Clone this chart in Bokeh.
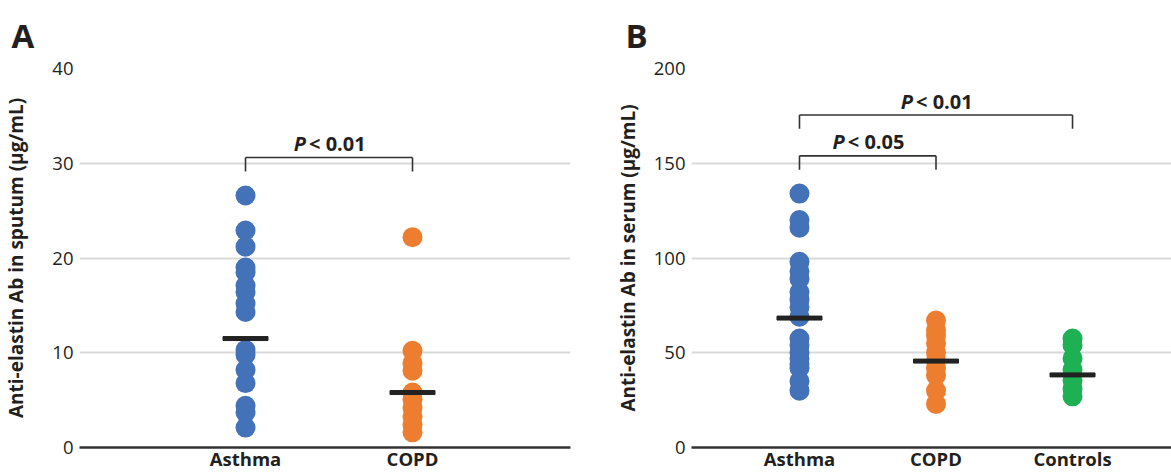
from bokeh.plotting import figure
from bokeh.models import FixedTicker, Range1d
from bokeh.layouts import row
from bokeh.embed import file_html
from bokeh.resources import INLINE
from bokeh.core.properties import value

# ---------------- data ----------------
a_groups = ["Asthma", "COPD"]
a_asthma = [26.6, 22.9, 21.2, 19.0, 18.5, 17.1, 16.4, 15.2, 14.3, 10.3, 9.8, 8.2, 6.8, 4.4, 3.7, 2.1]
a_copd = [22.2, 10.2, 8.9, 8.1, 5.8, 5.1, 4.2, 3.3, 2.4, 1.6]
a_means = [11.5, 5.8]
a_comparisons = [("Asthma", "COPD", 30.6, "< 0.01")]
a_ticks = [0, 10, 20, 30, 40]

b_groups = ["Asthma", "COPD", "Controls"]
b_asthma = [134, 120, 116, 98, 93, 89, 82, 78, 74, 69, 57.5, 54, 50, 47, 44, 42, 35, 30]
b_copd = [67, 62, 59, 55, 50, 46, 42, 38, 30, 23]
b_controls = [57.5, 54, 47, 41, 35.5, 31, 27]
b_means = [68.3, 45.6, 38.3]
b_comparisons = [("Asthma", "Controls", 175.5, "< 0.01"), ("Asthma", "COPD", 153.9, "< 0.05")]
b_ticks = [0, 50, 100, 150, 200]

colors = ["#4472B9", "#EE7E2F", "#1DB154"]
FONT = "Open Sans"
DARK = "#231F20"


def panel(letter, groups, series, means, comparisons, ticks, ylabel,
          width, height, border_l, border_r, x_lo, x_hi, label_standoff, letter_offset):
    border_t, border_b = 66, 25
    ymax = ticks[-1]
    p = figure(width=width, height=height, output_backend="svg", toolbar_location=None,
               x_range=Range1d(x_lo, x_hi), y_range=Range1d(0, ymax),
               min_border_left=border_l, min_border_right=border_r,
               min_border_top=border_t, min_border_bottom=border_b)
    p.outline_line_color = None
    p.background_fill_color = "white"
    p.border_fill_color = "white"
    frame_h = height - border_t - border_b
    yppu = frame_h / ymax

    # panel letter as title
    p.title.text = letter
    p.title.align = "left"
    p.title.offset = letter_offset
    p.title.standoff = 20.5
    p.title.text_font = FONT
    p.title.text_font_style = "bold"
    p.title.text_font_size = "33px"
    p.title.text_color = DARK

    # grid
    p.xgrid.grid_line_color = None
    p.ygrid.ticker = FixedTicker(ticks=ticks)
    p.ygrid.grid_line_color = "#D9D9D9"
    p.ygrid.grid_line_width = 2

    # y axis
    ya = p.yaxis[0]
    ya.ticker = FixedTicker(ticks=ticks)
    ya.axis_line_color = None
    ya.major_tick_line_color = None
    ya.minor_tick_line_color = None
    ya.major_tick_out = 0
    ya.major_tick_in = 0
    ya.minor_tick_out = 0
    ya.major_label_standoff = 6
    ya.major_label_text_font = FONT
    ya.major_label_text_font_size = "18.5px"
    ya.major_label_text_color = DARK
    ya.axis_label = ylabel
    ya.axis_label_text_font = FONT
    ya.axis_label_text_font_style = "bold"
    ya.axis_label_text_font_size = "19px"
    ya.axis_label_text_color = DARK
    ya.axis_label_standoff = label_standoff

    # x axis
    idx = list(range(1, len(groups) + 1))
    xa = p.xaxis[0]
    xa.ticker = FixedTicker(ticks=idx)
    xa.major_label_overrides = {i: g for i, g in zip(idx, groups)}
    xa.axis_line_color = "#333333"
    xa.axis_line_width = 2.5
    xa.major_tick_line_color = None
    xa.minor_tick_line_color = None
    xa.major_tick_out = 0
    xa.major_tick_in = 0
    xa.minor_tick_out = 0
    xa.major_label_standoff = -2
    xa.major_label_text_line_height = 0.8
    xa.major_label_text_font = FONT
    xa.major_label_text_font_style = "bold"
    xa.major_label_text_font_size = "18.5px"
    xa.major_label_text_color = DARK

    # points
    for i, vals in enumerate(series):
        p.scatter([idx[i]] * len(vals), vals, size=20, color=colors[i], line_color=None)

    # mean bars
    p.rect(idx, means, width=45, height=4, width_units="screen", height_units="screen",
           color="#222222")

    # brackets
    drop = 14 / yppu
    for g1, g2, yb, lab in comparisons:
        x1 = groups.index(g1) + 1
        x2 = groups.index(g2) + 1
        p.segment([x1, x1, x2], [yb - drop, yb, yb - drop], [x1, x2, x2], [yb, yb, yb],
                  line_color="#333333", line_width=1.6)
        mid = (x1 + x2) / 2
        ty = yb + 14 / yppu
        p.text([mid], [ty], text=["P"], text_align="right", text_baseline="middle",
               x_offset=-23, text_font=value(FONT), text_font_style="bold italic",
               text_font_size="20px", text_color=DARK)
        p.text([mid], [ty], text=[lab], text_align="left", text_baseline="middle",
               x_offset=-20, text_font=value(FONT), text_font_style="bold",
               text_font_size="20px", text_color=DARK)
    return p


pA = panel("A", a_groups, [a_asthma, a_copd], a_means, a_comparisons, a_ticks,
           "Anti-elastin Ab in sputum (µg/mL)", 600, 473, 79, 30, 0.006, 2.946, 20, -68)
pB = panel("B", b_groups, [b_asthma, b_copd, b_controls], b_means, b_comparisons, b_ticks,
           "Anti-elastin Ab in serum (µg/mL)", 571, 473, 91, 0, 0.209, 3.725, 10, -66)

layout = row(pA, pB)
open("out.html", "w").write(file_html(layout, INLINE))
